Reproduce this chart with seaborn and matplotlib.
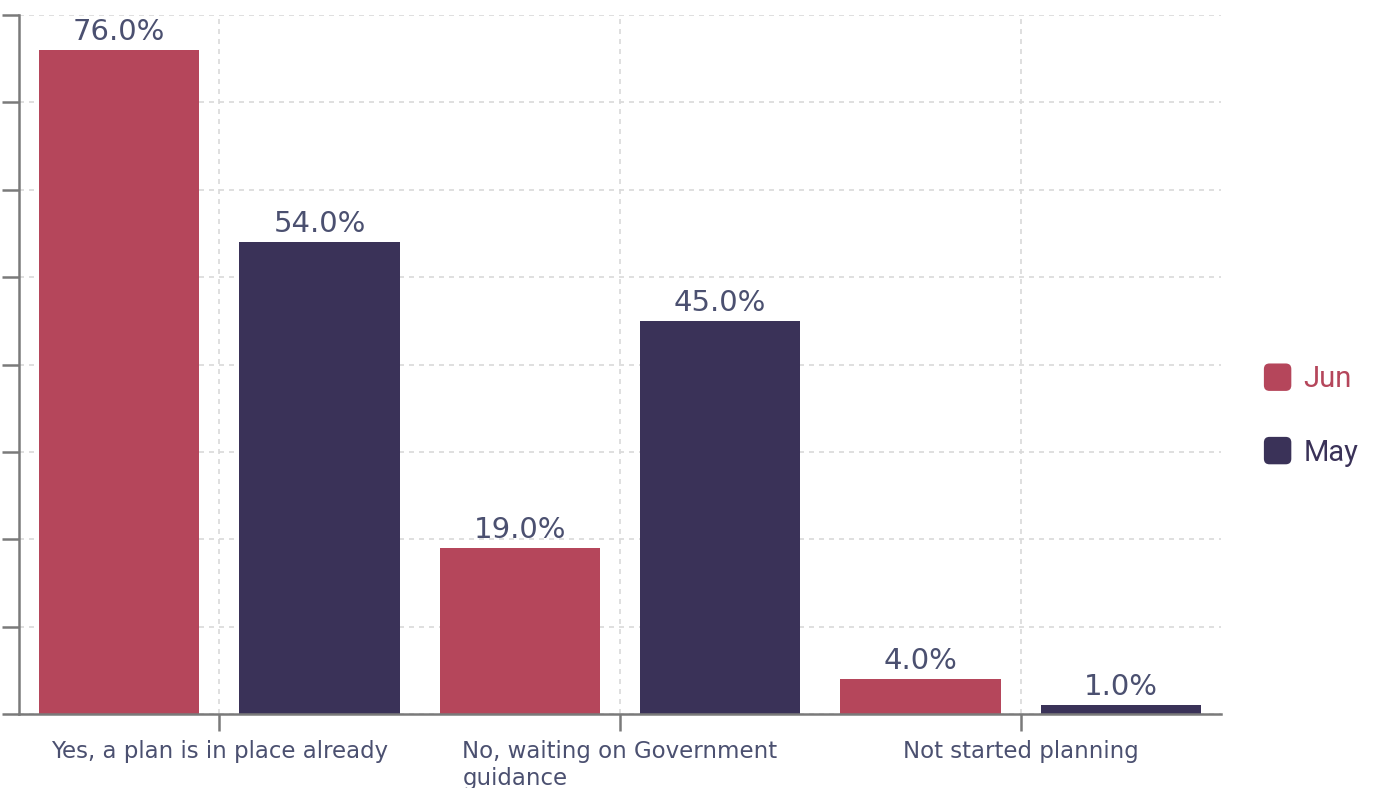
import numpy as np
import pandas as pd
import matplotlib
matplotlib.use("Agg")
import matplotlib.pyplot as plt
from matplotlib.patches import FancyBboxPatch, Patch
from matplotlib.legend_handler import HandlerPatch
import seaborn as sns

# Survey responses by month (percent of respondents)
categories = ["Yes, a plan is in place already",
              "No, waiting on Government\nguidance",
              "Not started planning"]
months = ["Jun", "May"]
jun_values = [76.0, 19.0, 4.0]
may_values = [54.0, 45.0, 1.0]
y_ticks = [0, 10, 20, 30, 40, 50, 60, 70, 80]

colors = {"Jun": "#B5465B", "May": "#3A3258"}
text_color = "#4B5070"
grid_color = "#D9D9D9"
axis_color = "#7A7A7A"

df = pd.DataFrame({
    "category": categories * 2,
    "month": ["Jun"] * 3 + ["May"] * 3,
    "value": jun_values + may_values,
})

sns.set_theme(style="white")
plt.rcParams["font.family"] = ["DejaVu Sans"]

fig = plt.figure(figsize=(13.76, 7.88), dpi=100)
ax = fig.add_axes([19 / 1376, 74 / 788, 1202 / 1376, 699 / 788])

sns.barplot(data=df, x="category", y="value", hue="month", hue_order=months,
            order=categories, palette=colors, width=1.0, gap=0.2,
            saturation=1, legend=False, ax=ax, zorder=3, errorbar=None,
            linewidth=0, edgecolor="none")

ax.set_xlim(-0.5, 2.5)
ax.set_ylim(0, 80)
ax.set_yticks(y_ticks)
ax.set_yticklabels([])
ax.set_xlabel("")
ax.set_ylabel("")

# dashed grid behind the bars
ax.set_axisbelow(True)
ax.grid(True, axis="both", color=grid_color, linestyle=(0, (3, 3)), linewidth=1.2)

for side in ["top", "right"]:
    ax.spines[side].set_visible(False)
for side in ["left", "bottom"]:
    ax.spines[side].set_color(axis_color)
    ax.spines[side].set_linewidth(1.8)
    ax.spines[side].set_zorder(4)

ax.tick_params(axis="y", direction="out", length=12, width=1.8, color=axis_color, left=True)
ax.tick_params(axis="x", direction="out", length=12, width=1.8, color=axis_color,
               bottom=True, labelsize=16.5, labelcolor=text_color, pad=7)
for lbl in ax.get_xticklabels():
    lbl.set_multialignment("left")
    lbl.set_verticalalignment("top")

for container in ax.containers:
    ax.bar_label(container, fmt="%.1f%%", padding=3, fontsize=21,
                 color=text_color, zorder=5)


class RoundedSquare(HandlerPatch):
    def create_artists(self, legend, orig_handle, xdescent, ydescent,
                       width, height, fontsize, trans):
        size = min(width, height)
        x0 = -xdescent + (width - size) / 2
        y0 = -ydescent + (height - size) / 2
        p = FancyBboxPatch((x0 + 3, y0 + 3), size - 6, size - 6,
                           boxstyle="round,pad=3,rounding_size=4",
                           facecolor=orig_handle.get_facecolor(),
                           edgecolor="none", transform=trans)
        return [p]


handles = [Patch(facecolor=colors[m], label=m) for m in months]
leg = fig.legend(handles=handles, loc="center left",
                 bbox_to_anchor=(1262 / 1376, 1 - 415 / 788),
                 frameon=False, prop={"family": "Roboto", "size": 21},
                 handlelength=1.07, handleheight=1.07, handletextpad=0.35,
                 labelspacing=1.5, borderpad=0, borderaxespad=0,
                 handler_map={Patch: RoundedSquare()})
for txt, m in zip(leg.get_texts(), months):
    txt.set_color(colors[m])

fig.savefig("out.png", dpi=100, facecolor="white")
